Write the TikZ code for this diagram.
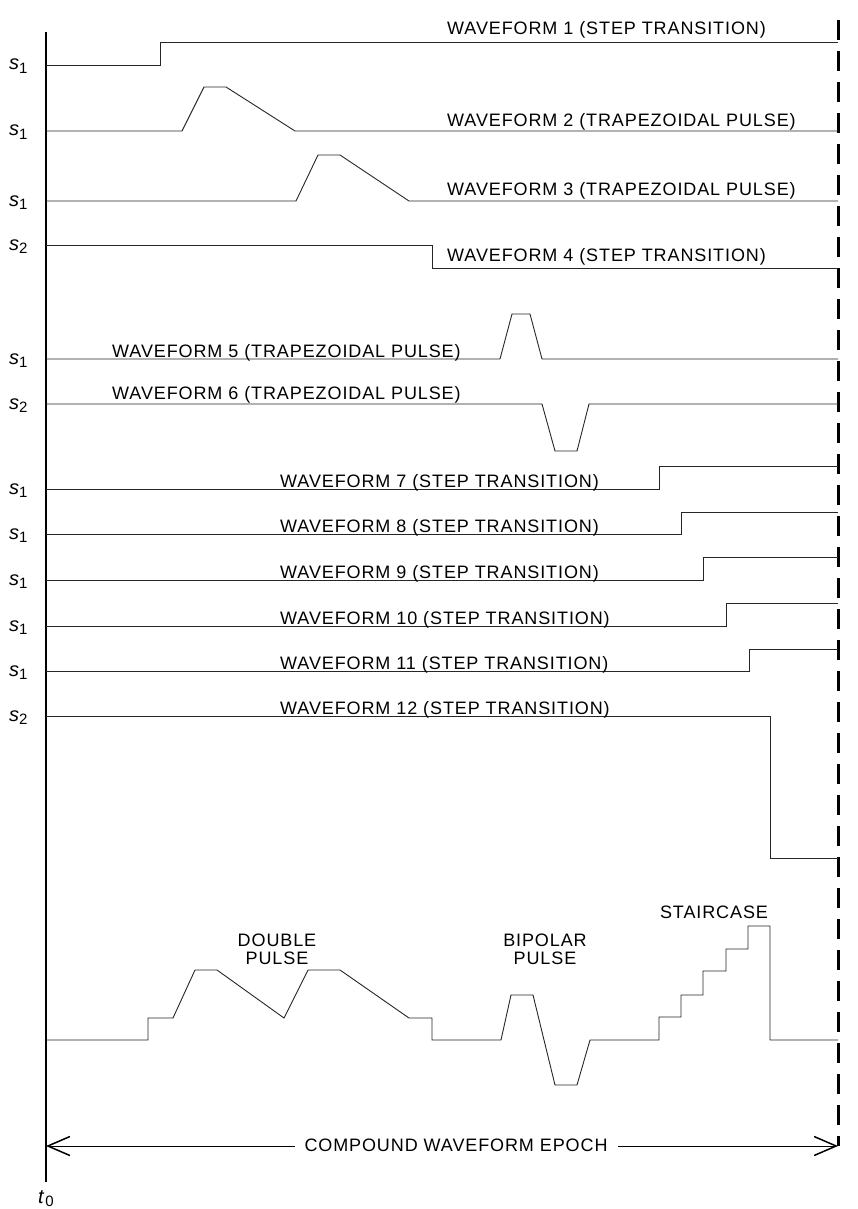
\documentclass[tikz,border=0pt]{standalone}
\usepackage{fontspec}
\setmainfont{Liberation Sans}[LetterSpace=5]
\usetikzlibrary{arrows.meta}

\newcommand{\lvl}[1]{{\itshape s}\raisebox{-0.3ex}{\fontsize{15}{15}\selectfont #1}}

\begin{document}
\begin{tikzpicture}[x=1pt,y=-1pt,
    wave/.style={draw=black!85,line width=0.9pt},
    lbl/.style={inner sep=0pt,anchor=base west,font=\fontsize{18}{20}\selectfont},
    tag/.style={inner sep=0pt,anchor=base west,font=\fontsize{20}{22}\selectfont},
    title/.style={inner sep=0pt,align=center,font=\fontsize{18}{18}\selectfont}]
   \useasboundingbox (0,0) rectangle (858,1209);
   % axis and end of epoch
   \coordinate (axtop) at (46,32);
   \coordinate (axbot) at (46,1182);
   \coordinate (endtop) at (838,20);
   \coordinate (endbot) at (838,1146);
   \draw[line width=1.3pt] (axtop) -- (axbot);
   \draw[line width=3pt,dash pattern=on 20pt off 11pt] (endtop) -- (endbot);
   \node (tnull) at (38,1203) [tag] {\textit{t}\raisebox{-0.3ex}{\fontsize{15}{15}\selectfont 0}};
   % level tags
   \node (lev1)  at (9,70)  [tag] {\lvl{1}};
   \node (lev2)  at (9,136) [tag] {\lvl{1}};
   \node (lev3)  at (9,206) [tag] {\lvl{1}};
   \node (lev4)  at (9,250) [tag] {\lvl{2}};
   \node (lev5)  at (9,364) [tag] {\lvl{1}};
   \node (lev6)  at (9,409) [tag] {\lvl{2}};
   \node (lev7)  at (9,494) [tag] {\lvl{1}};
   \node (lev8)  at (9,539) [tag] {\lvl{1}};
   \node (lev9)  at (9,585) [tag] {\lvl{1}};
   \node (lev10) at (9,631) [tag] {\lvl{1}};
   \node (lev11) at (9,676) [tag] {\lvl{1}};
   \node (lev12) at (9,721) [tag] {\lvl{2}};
   % waveforms 1 - 4
   \draw[wave] (46,65) -- (160,65) -- (160,42) -- (838,42);
   \draw[wave] (46,131) -- (182,131) -- (204,87) -- (226,87) -- (295,131) -- (838,131);
   \draw[wave] (46,201) -- (296,201) -- (318,155) -- (340,155) -- (409,201) -- (838,201);
   \draw[wave] (46,245) -- (432,245) -- (432,268) -- (838,268);
   \node (wave1) at (447,35)  [lbl] {WAVEFORM 1 (STEP TRANSITION)};
   \node (wave2) at (447,127) [lbl] {WAVEFORM 2 (TRAPEZOIDAL PULSE)};
   \node (wave3) at (447,195) [lbl] {WAVEFORM 3 (TRAPEZOIDAL PULSE)};
   \node (wave4) at (447,261) [lbl] {WAVEFORM 4 (STEP TRANSITION)};
   % waveforms 5 - 6
   \draw[wave] (46,359) -- (500,359) -- (512,314) -- (530,314) -- (542,359) -- (838,359);
   \draw[wave] (46,404) -- (542,404) -- (555,451) -- (577,451) -- (589,404) -- (838,404);
   \node (wave5) at (112,357) [lbl] {WAVEFORM 5 (TRAPEZOIDAL PULSE)};
   \node (wave6) at (112,399) [lbl] {WAVEFORM 6 (TRAPEZOIDAL PULSE)};
   % waveforms 7 - 12
   \draw[wave] (46,489) -- (659,489) -- (659,466) -- (838,466);
   \draw[wave] (46,534) -- (681,534) -- (681,512) -- (838,512);
   \draw[wave] (46,580) -- (703,580) -- (703,557) -- (838,557);
   \draw[wave] (46,626) -- (726,626) -- (726,603) -- (838,603);
   \draw[wave] (46,671) -- (749,671) -- (749,649) -- (838,649);
   \draw[wave] (46,716) -- (770,716) -- (770,858) -- (838,858);
   \node (wave7)  at (280,487) [lbl] {WAVEFORM 7 (STEP TRANSITION)};
   \node (wave8)  at (280,532) [lbl] {WAVEFORM 8 (STEP TRANSITION)};
   \node (wave9)  at (280,578) [lbl] {WAVEFORM 9 (STEP TRANSITION)};
   \node (wave10) at (280,624) [lbl] {WAVEFORM 10 (STEP TRANSITION)};
   \node (wave11) at (280,669) [lbl] {WAVEFORM 11 (STEP TRANSITION)};
   \node (wave12) at (280,714) [lbl] {WAVEFORM 12 (STEP TRANSITION)};
   % compound waveform
   \draw[wave] (46,1040) -- (148,1040) -- (148,1018) -- (173,1018) -- (195,970) -- (217,970)
      -- (284,1018) -- (308,970) -- (340,970) -- (409,1018) -- (432,1018) -- (432,1040)
      -- (501,1040) -- (511,995) -- (533,995) -- (555,1085) -- (577,1085) -- (590,1040)
      -- (659,1040) -- (659,1017) -- (681,1017) -- (681,995) -- (703,995) -- (703,971)
      -- (726,971) -- (726,949) -- (748,949) -- (748,926) -- (770,926) -- (770,1040) -- (838,1040);
   \node (double)    at (277,949) [title] {DOUBLE\\PULSE};
   \node (bipolar)   at (545,949) [title] {BIPOLAR\\PULSE};
   \node (staircase) at (714,912) [title] {STAIRCASE};
   % epoch
   \coordinate (epochL) at (46,1146);
   \coordinate (epochR) at (838,1146);
   \draw[{Straight Barb[length=22pt,width=19pt,line width=1.5pt]}-{Straight Barb[length=22pt,width=19pt,line width=1.5pt]},line width=0.9pt] (epochL) -- (epochR);
   \node (epoch) at (456,1145) [fill=white,inner xsep=10pt,inner ysep=2pt,font=\fontsize{18}{20}\selectfont] {COMPOUND WAVEFORM EPOCH};
\end{tikzpicture}
\end{document}
